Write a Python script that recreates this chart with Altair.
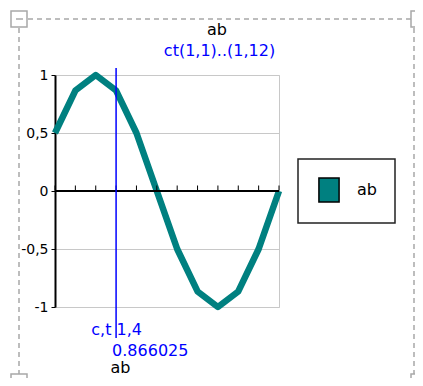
import altair as alt
import pandas as pd

# ---- data ----
series_name = "ab"
cats = list(range(1, 13))
values = [0.5, 0.866025, 1.0, 0.866025, 0.5, 0.0, -0.5, -0.866025, -1.0, -0.866025, -0.5, 0.0]
y_ticks = [-1, -0.5, 0, 0.5, 1]
title_text = "ab"
subtitle_text = "ct(1,1)..(1,12)"
x_title = "ab"
cursor_index = 4
cursor_label = f"c,t 1,{cursor_index}"
cursor_value = f"{values[cursor_index - 1]:.6g}"

df = pd.DataFrame({"i": cats, "v": values, "s": series_name})
cursor_df = pd.DataFrame({"i": [cursor_index], "lab": [cursor_label], "val": [cursor_value]})
one = pd.DataFrame({"k": [0]})

FONT = "DejaVu Sans"
TEAL = "#008080"
BLUE = "#0000ff"
GRAY = "#a8a8a8"
W, H = 224, 232

x_scale = alt.Scale(domain=[1, 12], nice=False, zero=False)
y_scale = alt.Scale(domain=[-1, 1], nice=False, zero=False)

line = alt.Chart(df).mark_line(color=TEAL, strokeWidth=6.5, strokeJoin="round").encode(
    x=alt.X("i:Q", scale=x_scale, axis=None),
    y=alt.Y("v:Q", scale=y_scale,
            axis=alt.Axis(values=y_ticks, labelExpr="replace(toString(datum.value), '.', ',')",
                          title=None, grid=True, gridColor="#c8c8c8", gridWidth=1,
                          domainColor="black", domainWidth=2, tickColor="black", tickSize=4,
                          labelPadding=3, labelFont=FONT, labelFontSize=14, labelColor="black")),
)

zero_line = alt.Chart(one).mark_rule(color="black", strokeWidth=2).encode(y=alt.datum(0))
zero_ticks = alt.Chart(df).mark_tick(orient="vertical", color="black", size=5, thickness=1,
                                     yOffset=-3, opacity=1).encode(
    x=alt.X("i:Q", scale=x_scale, axis=None), y=alt.datum(0))

legend_layer = alt.Chart(df).mark_point(filled=True, stroke="black", strokeWidth=1.5, opacity=1).encode(
    fill=alt.Fill("s:N", scale=alt.Scale(domain=[series_name], range=[TEAL]),
                  legend=alt.Legend(title=None, orient="none", legendX=243, legendY=84, padding=18,
                                    strokeColor="#222222", symbolType="M-0.84,-1H0.84V1H-0.84Z",
                                    symbolSize=576, symbolFillColor=TEAL, symbolStrokeColor="black",
                                    symbolStrokeWidth=1.5, symbolOpacity=1, labelFont=FONT,
                                    labelFontSize=16, labelColor="black", labelOffset=15)),
).transform_filter("false")

rule = alt.Chart(cursor_df).mark_rule(color=BLUE, strokeWidth=1.5).encode(
    x=alt.X("i:Q", scale=x_scale, axis=None), y=alt.value(-7), y2=alt.value(263))

cur_lab = alt.Chart(cursor_df).mark_text(color=BLUE, font=FONT, fontSize=16, align="center",
                                         baseline="alphabetic", dx=0.5).encode(
    x=alt.X("i:Q", scale=x_scale, axis=None), y=alt.value(260), text="lab:N")
cur_val = alt.Chart(cursor_df).mark_text(color=BLUE, font=FONT, fontSize=16, align="left",
                                         baseline="alphabetic", dx=-4).encode(
    x=alt.X("i:Q", scale=x_scale, axis=None), y=alt.value(281), text="val:N")

title = alt.Chart(one).mark_text(text=title_text, color="black", font=FONT, fontSize=16,
                                 align="center", baseline="alphabetic").encode(
    x=alt.value(162), y=alt.value(-40))
subtitle = alt.Chart(one).mark_text(text=subtitle_text, color=BLUE, font=FONT, fontSize=16,
                                    align="center", baseline="alphabetic").encode(
    x=alt.value(164.5), y=alt.value(-19))
xtitle = alt.Chart(one).mark_text(text=x_title, color="black", font=FONT, fontSize=16,
                                  align="center", baseline="alphabetic").encode(
    x=alt.value(65.5), y=alt.value(298))

# dashed selection frame (right/bottom edges sit at the page edge)
frame_top = alt.Chart(one).mark_rule(color=GRAY, strokeWidth=1.5, strokeDash=[5, 4]).encode(
    x=alt.value(-36), x2=alt.value(359), y=alt.value(-56))
frame_left = alt.Chart(one).mark_rule(color=GRAY, strokeWidth=1.5, strokeDash=[5, 4]).encode(
    x=alt.value(-36), y=alt.value(-56), y2=alt.value(303))
frame_right = alt.Chart(one).mark_rule(color=GRAY, strokeWidth=1.5, strokeDash=[5, 4]).encode(
    x=alt.value(359), y=alt.value(-56), y2=alt.value(303))

handles = []
for cx, cy in [(-36, -56), (364, -56), (-36, 307), (364, 307)]:
    handles.append(alt.Chart(one).mark_rect(fill="white", stroke=GRAY, strokeWidth=1.5).encode(
        x=alt.value(cx - 8), x2=alt.value(cx + 8), y=alt.value(cy - 8), y2=alt.value(cy + 8)))
dash_in = alt.Chart(one).mark_rule(color=GRAY, strokeWidth=1.5).encode(
    x=alt.value(-39), x2=alt.value(-32), y=alt.value(-56))

chart = alt.layer(frame_top, frame_left, frame_right, *handles, dash_in, line, zero_line,
                  zero_ticks, legend_layer, rule, cur_lab, cur_val,
                  title, subtitle, xtitle).properties(
    width=W, height=H,
    autosize=alt.AutoSizeParams(type="none"),
    padding={"left": 47, "top": 67, "right": 136, "bottom": 71},
).configure_view(stroke="#c8c8c8", strokeWidth=1).configure_legend(strokeWidth=1.5)

chart.save("out.html", embed_options={"renderer": "svg", "actions": False})
